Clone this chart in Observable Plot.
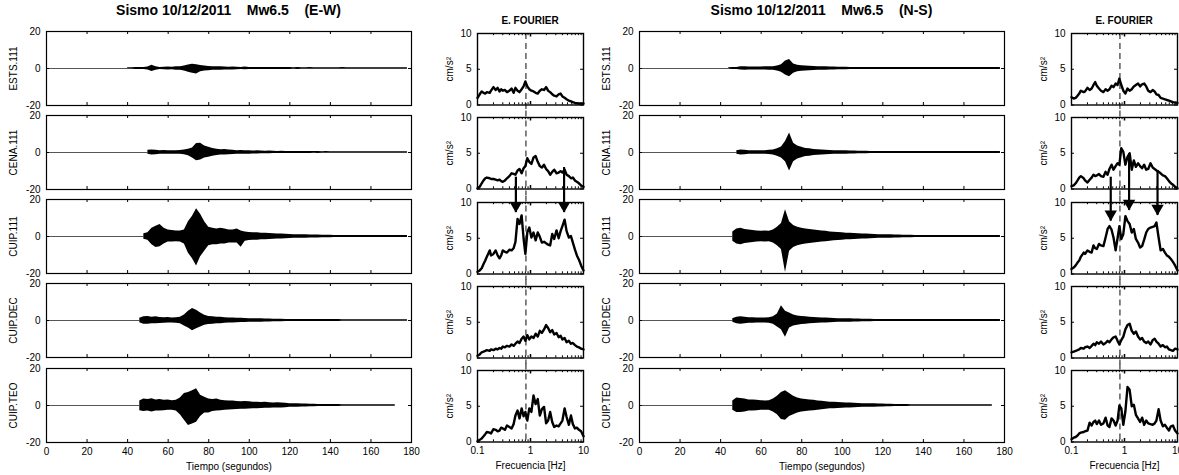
<!DOCTYPE html>
<html><head><meta charset="utf-8">
<script src="https://cdn.jsdelivr.net/npm/d3@7"></script>
<script src="https://cdn.jsdelivr.net/npm/@observablehq/plot@0.6"></script>
<style>
body{margin:0;background:#fff;}
#root{position:relative;width:1179px;height:475px;overflow:hidden;font-family:"Liberation Sans",Arial,Helvetica,sans-serif;color:#000;}
.title{position:absolute;font-weight:bold;white-space:pre;text-align:center;}
</style></head><body><div id="root"></div><script>
// ---------- data ----------
const stations = ["ESTS.111","CENA.111","CUIP.111","CUIP.DEC","CUIP.TEO"];
const components = ["E-W","N-S"];
const titleDate = "Sismo 10/12/2011";
const titleMag = "Mw6.5";
const fourierTitle = "E. FOURIER";
const timeTicks = [0,20,40,60,80,100,120,140,160,180];
const ampTicks = [-20,0,20];
const freqTicks = [0.1,1,10];
const freqMinor = [0.2,0.3,0.4,0.5,0.6,0.7,0.8,0.9,2,3,4,5,6,7,8,9];
const specTicks = [0,5,10];
const dashedFreq = 0.82;

// envelope of each accelerogram, one value every 2 s from its onset time
const startEW = [40,50,48,46,46];
const upEW_ESTS = [0.4,0.4,0.5,0.5,0.6,0.8,1.7,1.0,0.6,0.7, 0.8,0.7,0.9,1.0,1.3,1.9,2.3,2.0,1.6,1.3, 1.1,1.0,0.9,1.0,0.8,0.7,0.8,0.7,0.6,0.8, 0.6,0.6,0.5,0.6,0.5,0.5,0.6,0.5,0.5,0.5, 0.5,0.4,0.5,0.4,0.4,0.5,0.4,0.4,0.4,0.4, 0.4,0.4,0.4,0.5,0.4,0.4,0.4,0.4,0.4,0.4, 0.4,0.4,0.4,0.4,0.4,0.4,0.4,0.4,0.4,0.4];
const loEW_ESTS = [-0.4,-0.4,-0.5,-0.5,-0.6,-0.8,-1.6,-1.0,-0.6,-0.7, -0.8,-0.7,-0.9,-1.0,-1.4,-2.0,-2.6,-3.0,-1.8,-1.4, -1.2,-1.0,-0.9,-1.0,-0.8,-0.8,-0.8,-0.7,-0.6,-0.7, -0.6,-0.6,-0.5,-0.6,-0.5,-0.5,-0.5,-0.5,-0.5,-0.5, -0.5,-0.4,-0.5,-0.4,-0.4,-0.4,-0.4,-0.4,-0.4,-0.4, -0.4,-0.4,-0.4,-0.4,-0.4,-0.4,-0.4,-0.4,-0.4,-0.4, -0.4,-0.4,-0.4,-0.4,-0.4,-0.4,-0.4,-0.4,-0.4,-0.4];
const upEW_CENA = [1.2,1.4,1.2,1.0,1.1,1.0,0.9,1.0,1.1,1.3, 1.8,2.5,4.8,5.0,3.5,2.8,2.2,1.8,1.5,1.6, 1.3,1.2,1.0,1.1,1.0,0.9,0.8,0.9,0.8,0.7, 0.8,0.7,0.6,0.7,0.6,0.6,0.5,0.6,0.5,0.5, 0.5,0.5,0.5,0.4,0.5,0.4,0.4,0.4,0.4,0.4, 0.4,0.4,0.4,0.4,0.4,0.4,0.4,0.4,0.4,0.4, 0.4,0.4,0.4,0.4,0.4];
const loEW_CENA = [-1.0,-1.3,-1.2,-1.0,-1.0,-0.9,-0.9,-1.0,-1.0,-1.2, -1.8,-3.0,-4.5,-4.0,-3.0,-2.5,-2.0,-1.6,-1.4,-1.4, -1.2,-1.1,-1.0,-1.0,-0.9,-0.9,-0.8,-0.8,-0.7,-0.7, -0.7,-0.6,-0.6,-0.6,-0.6,-0.5,-0.5,-0.5,-0.5,-0.5, -0.5,-0.4,-0.5,-0.4,-0.4,-0.4,-0.4,-0.4,-0.4,-0.4, -0.4,-0.4,-0.4,-0.4,-0.4,-0.4,-0.4,-0.4,-0.4,-0.4, -0.4,-0.4,-0.4,-0.4,-0.4];
const upEW_CUIP111 = [1.5,2.0,4.5,5.5,6.5,4.5,3.5,3.2,3.0,3.0, 3.5,8.0,11.0,15.0,12.0,8.0,5.0,4.5,4.0,4.5, 4.0,3.5,3.5,4.0,3.0,2.5,2.2,2.0,2.0,1.8, 1.8,1.6,1.5,1.4,1.3,1.2,1.1,1.0,1.0,0.9, 0.9,0.8,0.8,0.8,0.7,0.7,0.7,0.6,0.6,0.6, 0.6,0.5,0.5,0.5,0.5,0.5,0.5,0.5,0.5,0.5, 0.5,0.5,0.5,0.5,0.5,0.5];
const loEW_CUIP111 = [-1.5,-2.0,-4.5,-6.0,-5.5,-4.0,-3.0,-3.0,-2.8,-3.0, -4.0,-9.0,-12.0,-16.0,-11.0,-8.0,-5.0,-4.5,-4.5,-4.0, -4.0,-3.5,-3.5,-3.5,-5.8,-2.5,-2.2,-2.0,-2.0,-1.8, -1.8,-1.6,-1.5,-1.4,-1.3,-1.2,-1.1,-1.0,-1.0,-0.9, -0.9,-0.8,-0.8,-0.8,-0.7,-0.7,-0.7,-0.6,-0.6,-0.6, -0.6,-0.5,-0.5,-0.5,-0.5,-0.5,-0.5,-0.5,-0.5,-0.5, -0.5,-0.5,-0.5,-0.5,-0.5,-0.5];
const upEW_CUIPDEC = [1.2,2.0,2.2,1.8,2.0,1.6,1.5,1.6,1.4,1.5, 1.8,3.0,5.0,6.5,5.5,4.0,2.8,2.2,2.0,1.8, 1.8,1.5,1.4,1.3,1.2,1.2,1.1,1.0,1.0,0.9, 0.9,0.8,0.8,0.7,0.7,0.7,0.6,0.6,0.6,0.6, 0.5,0.5,0.5,0.5,0.5,0.5,0.5,0.5,0.5,0.5, 0.4,0.4,0.4,0.4,0.4,0.4,0.4,0.4,0.4,0.4, 0.4,0.4,0.4,0.4,0.4,0.4,0.4];
const loEW_CUIPDEC = [-1.2,-2.0,-2.0,-1.8,-1.8,-1.6,-1.5,-1.4,-1.4,-1.5, -1.8,-3.0,-4.0,-5.5,-4.5,-3.5,-2.6,-2.2,-2.0,-1.8, -1.7,-1.5,-1.4,-1.3,-1.2,-1.1,-1.1,-1.0,-1.0,-0.9, -0.9,-0.8,-0.8,-0.7,-0.7,-0.7,-0.6,-0.6,-0.6,-0.6, -0.5,-0.5,-0.5,-0.5,-0.5,-0.5,-0.5,-0.5,-0.5,-0.5, -0.4,-0.4,-0.4,-0.4,-0.4,-0.4,-0.4,-0.4,-0.4,-0.4, -0.4,-0.4,-0.4,-0.4,-0.4,-0.4,-0.4];
const upEW_CUIPTEO = [2.5,3.5,3.2,3.6,3.0,3.2,2.8,3.0,2.6,2.8, 4.0,6.5,7.0,8.0,9.0,5.5,4.5,3.5,3.2,3.5, 2.8,2.6,2.5,2.4,2.2,2.0,2.2,2.0,1.8,1.8, 1.6,1.7,1.5,1.4,1.5,1.3,1.2,1.0,1.0,0.9, 0.8,0.8,0.7,0.7,0.6,0.6,0.6,0.5,0.5,0.5, 0.4,0.4,0.4,0.4,0.4,0.4,0.4,0.4,0.4,0.4, 0.4,0.4,0.4,0.4];
const loEW_CUIPTEO = [-2.8,-3.2,-3.0,-3.5,-3.0,-3.0,-2.8,-2.6,-2.6,-3.0, -5.0,-8.0,-10.8,-10.0,-9.0,-6.0,-4.0,-4.0,-3.2,-3.0, -2.8,-2.5,-2.4,-2.3,-2.2,-2.0,-2.0,-1.9,-1.8,-1.7, -1.6,-1.5,-1.5,-1.4,-1.3,-1.3,-1.2,-1.0,-1.0,-0.9, -0.8,-0.8,-0.7,-0.7,-0.6,-0.6,-0.6,-0.5,-0.5,-0.5, -0.4,-0.4,-0.4,-0.4,-0.4,-0.4,-0.4,-0.4,-0.4,-0.4, -0.4,-0.4,-0.4,-0.4];

const startNS = [44,48,46,46,46];
const upNS_ESTS = [0.4,0.5,0.6,0.9,1.0,0.8,0.8,0.8,0.8,0.9, 0.9,1.0,1.3,2.0,4.0,4.8,2.5,1.8,1.5,1.3, 1.2,1.1,1.0,0.9,0.9,0.8,0.8,0.7,0.7,0.7, 0.6,0.6,0.6,0.6,0.5,0.5,0.5,0.5,0.5,0.5, 0.5,0.5,0.5,0.5,0.5,0.5,0.5,0.5,0.5,0.5, 0.5,0.5,0.5,0.5,0.5,0.5,0.5,0.5,0.5,0.5, 0.5,0.5,0.5,0.5,0.5,0.5,0.5,0.5];
const loNS_ESTS = [-0.4,-0.5,-0.6,-0.8,-1.0,-0.8,-0.8,-0.8,-0.8,-0.8, -0.9,-1.0,-1.3,-2.0,-3.5,-4.5,-2.5,-1.8,-1.5,-1.3, -1.2,-1.1,-1.0,-0.9,-0.9,-0.8,-0.8,-0.7,-0.7,-0.7, -0.6,-0.6,-0.6,-0.6,-0.5,-0.5,-0.5,-0.5,-0.5,-0.5, -0.5,-0.5,-0.5,-0.5,-0.5,-0.5,-0.5,-0.5,-0.5,-0.5, -0.5,-0.5,-0.5,-0.5,-0.5,-0.5,-0.5,-0.5,-0.5,-0.5, -0.5,-0.5,-0.5,-0.5,-0.5,-0.5,-0.5,-0.5];
const upNS_CENA = [1.0,1.4,1.2,1.0,1.0,0.9,1.0,1.0,1.2,1.3, 2.0,3.0,6.0,10.5,5.0,3.5,2.8,2.2,2.0,1.6, 1.5,1.3,1.2,1.1,1.0,1.0,0.9,0.9,0.8,0.8, 0.7,0.7,0.7,0.6,0.6,0.6,0.6,0.5,0.5,0.5, 0.5,0.5,0.5,0.5,0.5,0.5,0.5,0.5,0.5,0.5, 0.5,0.5,0.5,0.5,0.5,0.5,0.5,0.5,0.5,0.5, 0.5,0.5,0.5,0.5,0.5,0.5];
const loNS_CENA = [-1.0,-1.3,-1.2,-1.0,-1.0,-0.9,-1.0,-1.0,-1.1,-1.3, -2.0,-3.0,-5.0,-10.0,-5.0,-3.5,-2.8,-2.2,-2.0,-1.6, -1.5,-1.3,-1.2,-1.1,-1.0,-1.0,-0.9,-0.9,-0.8,-0.8, -0.7,-0.7,-0.7,-0.6,-0.6,-0.6,-0.6,-0.5,-0.5,-0.5, -0.5,-0.5,-0.5,-0.5,-0.5,-0.5,-0.5,-0.5,-0.5,-0.5, -0.5,-0.5,-0.5,-0.5,-0.5,-0.5,-0.5,-0.5,-0.5,-0.5, -0.5,-0.5,-0.5,-0.5,-0.5,-0.5];
const upNS_CUIP111 = [2.5,4.0,4.5,3.8,3.5,3.2,3.0,2.8,3.0,2.8, 3.5,5.0,7.0,14.5,8.0,6.0,5.0,4.5,4.0,3.8, 3.5,3.2,3.0,2.8,2.5,2.3,2.2,2.0,1.8,1.7, 1.6,1.5,1.4,1.3,1.2,1.1,1.0,1.0,0.9,0.9, 0.8,0.8,0.7,0.7,0.7,0.6,0.6,0.6,0.5,0.5, 0.5,0.5,0.5,0.5,0.5,0.5,0.5,0.5,0.5,0.5, 0.5,0.5,0.5,0.5,0.5,0.5,0.5];
const loNS_CUIP111 = [-2.5,-4.0,-4.5,-3.8,-3.5,-3.2,-3.0,-2.8,-3.0,-2.8, -3.5,-5.0,-7.0,-19.5,-8.0,-6.0,-5.0,-4.5,-4.0,-3.8, -3.5,-3.2,-3.0,-2.8,-2.5,-2.3,-2.2,-2.0,-1.8,-1.7, -1.6,-1.5,-1.4,-1.3,-1.2,-1.1,-1.0,-1.0,-0.9,-0.9, -0.8,-0.8,-0.7,-0.7,-0.7,-0.6,-0.6,-0.6,-0.5,-0.5, -0.5,-0.5,-0.5,-0.5,-0.5,-0.5,-0.5,-0.5,-0.5,-0.5, -0.5,-0.5,-0.5,-0.5,-0.5,-0.5,-0.5];
const upNS_CUIPDEC = [1.0,1.8,2.0,1.8,1.5,1.5,1.4,1.3,1.4,1.5, 2.0,3.5,8.0,5.0,4.0,3.0,2.5,2.2,2.0,1.8, 1.6,1.5,1.4,1.3,1.2,1.1,1.0,1.0,0.9,0.9, 0.8,0.8,0.7,0.7,0.7,0.6,0.6,0.6,0.6,0.5, 0.5,0.5,0.5,0.5,0.5,0.5,0.5,0.5,0.5,0.5, 0.5,0.5,0.5,0.5,0.5,0.5,0.5,0.5,0.5,0.5, 0.5,0.5,0.5,0.5,0.5,0.5,0.5];
const loNS_CUIPDEC = [-1.0,-1.8,-2.0,-1.8,-1.5,-1.5,-1.4,-1.3,-1.4,-1.5, -2.0,-3.5,-5.0,-9.0,-4.0,-3.0,-2.5,-2.2,-2.0,-1.8, -1.6,-1.5,-1.4,-1.3,-1.2,-1.1,-1.0,-1.0,-0.9,-0.9, -0.8,-0.8,-0.7,-0.7,-0.7,-0.6,-0.6,-0.6,-0.6,-0.5, -0.5,-0.5,-0.5,-0.5,-0.5,-0.5,-0.5,-0.5,-0.5,-0.5, -0.5,-0.5,-0.5,-0.5,-0.5,-0.5,-0.5,-0.5,-0.5,-0.5, -0.5,-0.5,-0.5,-0.5,-0.5,-0.5,-0.5];
const upNS_CUIPTEO = [2.5,4.0,3.8,3.5,3.0,3.0,2.8,2.6,2.5,2.6, 3.5,5.0,7.0,8.0,6.5,5.0,4.0,3.5,3.2,3.0, 2.8,2.5,2.3,2.0,1.8,1.7,1.6,1.5,1.4,1.3, 1.2,1.1,1.0,1.0,0.9,0.9,0.8,0.8,0.7,0.7, 0.6,0.6,0.6,0.5,0.4,0.4,0.4,0.4,0.4,0.4, 0.4,0.4,0.4,0.4,0.4,0.4,0.4,0.4,0.4,0.4, 0.4,0.4,0.4,0.4,0.4];
const loNS_CUIPTEO = [-2.5,-3.8,-3.8,-3.5,-3.0,-3.0,-2.8,-2.6,-2.5,-2.6, -3.5,-5.0,-7.5,-8.0,-6.0,-5.0,-4.0,-3.5,-3.2,-3.0, -2.8,-2.5,-2.3,-2.0,-1.8,-1.7,-1.6,-1.5,-1.4,-1.3, -1.2,-1.1,-1.0,-1.0,-0.9,-0.9,-0.8,-0.8,-0.7,-0.7, -0.6,-0.6,-0.6,-0.5,-0.4,-0.4,-0.4,-0.4,-0.4,-0.4, -0.4,-0.4,-0.4,-0.4,-0.4,-0.4,-0.4,-0.4,-0.4,-0.4, -0.4,-0.4,-0.4,-0.4,-0.4];

// Fourier amplitude spectra (cm/s2) at these frequencies (Hz)
const freqs = [0.10,0.11,0.12,0.13,0.14,0.15,0.17,0.18,0.20,0.22, 0.24,0.26,0.28,0.30,0.33,0.36,0.40,0.44,0.48,0.52, 0.57,0.62,0.68,0.74,0.80,0.87,0.95,1.04,1.14,1.25, 1.37,1.50,1.64,1.80,1.97,2.15,2.35,2.57,2.80,3.10, 3.40,3.70,4.00,4.40,4.80,5.30,5.80,6.30,6.90,7.50, 8.20,9.00,10.0];
const specEW_ESTS = [1.0,1.5,1.9,1.7,1.6,1.8,1.7,2.0,2.5,2.1, 2.4,1.9,2.2,2.0,2.1,1.8,2.0,2.3,1.7,2.4, 2.0,1.8,2.2,2.6,3.3,2.6,2.2,2.0,1.9,1.7, 1.6,2.0,2.2,2.1,2.5,2.0,1.8,1.5,1.3,1.2, 1.5,1.6,1.2,1.0,0.8,0.6,0.5,0.4,0.3,0.25, 0.2,0.2,0.2];
const specEW_CENA = [0.1,0.3,0.8,1.2,1.5,1.6,1.5,1.4,1.4,1.3, 1.2,1.3,1.1,1.0,1.2,1.5,1.8,2.2,2.1,2.0, 2.6,2.8,2.2,2.9,3.2,4.3,3.8,3.5,4.4,4.6, 3.8,3.2,3.0,3.4,2.8,2.5,2.0,2.4,2.7,2.2, 2.3,2.5,2.3,2.7,2.0,1.8,1.5,1.6,1.2,1.0, 0.8,0.5,0.3];
const specEW_CUIP111 = [0.3,0.5,0.8,1.4,1.9,2.4,3.3,2.6,2.8,3.3, 2.6,2.2,2.6,3.3,3.1,3.0,3.4,3.3,3.6,4.5, 7.7,7.0,8.2,5.0,2.8,5.8,6.5,5.1,5.8,4.7, 5.8,5.2,4.4,4.5,4.3,4.1,4.0,5.6,4.9,6.1, 5.0,6.0,6.7,7.6,6.0,5.1,5.3,4.4,3.4,2.6, 2.0,1.2,0.5];
const specEW_CUIPDEC = [0.3,0.5,0.8,0.9,1.0,1.1,1.0,1.2,1.1,1.3, 1.2,1.4,1.3,1.6,1.5,1.7,1.6,1.9,1.7,2.0, 2.3,2.1,2.7,3.0,2.4,3.2,2.6,3.0,2.8,3.4, 3.0,3.8,3.5,4.0,4.6,4.2,3.6,3.9,3.3,3.5, 2.9,3.1,2.6,2.8,2.2,2.4,2.0,2.1,1.8,1.6, 1.5,1.3,1.2];
const specEW_CUIPTEO = [0.1,0.3,0.5,0.8,1.1,1.4,1.3,1.2,1.8,1.7, 1.5,1.6,2.0,1.9,1.7,2.3,2.1,1.9,2.5,3.7, 4.4,3.3,4.7,3.6,4.2,3.0,4.7,4.2,6.5,5.3, 6.0,3.7,4.6,4.9,2.6,3.0,4.2,2.8,2.1,2.3, 2.2,2.6,3.0,4.7,3.5,2.4,3.7,2.5,1.9,2.0, 1.7,1.5,0.8];
const specNS_ESTS = [1.1,0.9,1.0,1.3,1.6,2.0,1.8,1.9,2.4,2.1, 2.3,2.8,3.2,2.7,2.3,2.0,1.8,2.2,2.0,2.2, 2.7,2.5,3.0,2.8,3.7,2.8,2.0,1.6,2.3,2.0, 2.2,2.6,2.8,3.0,2.6,2.9,3.0,2.6,2.0,1.8, 2.1,1.9,1.5,1.4,1.0,0.9,0.8,0.7,0.6,0.5, 0.4,0.35,0.3];
const specNS_CENA = [0.4,0.5,0.8,1.2,1.6,1.8,1.5,1.2,0.9,1.3, 1.6,2.0,1.8,1.9,2.1,1.8,1.7,2.4,2.0,2.8, 3.4,2.7,3.2,3.6,3.4,5.7,5.2,3.4,4.5,5.0, 2.7,4.0,3.1,3.6,3.2,2.9,3.4,2.7,2.8,3.6, 3.0,2.8,2.6,2.4,2.2,1.9,1.8,1.5,1.1,0.8, 0.6,0.3,0.1];
const specNS_CUIP111 = [0.7,0.9,1.2,1.6,1.9,2.4,3.0,2.8,3.3,3.1, 3.0,4.0,3.6,3.5,4.2,4.0,3.9,5.1,6.3,6.7, 6.2,5.1,3.3,5.0,6.7,4.9,5.6,8.1,7.4,7.0, 5.8,6.3,4.9,4.4,3.7,3.9,4.8,5.8,6.3,6.5, 6.6,6.7,7.2,5.1,3.3,3.5,3.0,2.6,2.4,2.1, 1.7,1.2,0.5];
const specNS_CUIPDEC = [0.8,0.9,1.0,1.1,1.2,1.4,1.3,1.5,1.6,1.4, 1.7,2.0,1.8,2.2,2.0,2.3,1.9,2.1,2.4,2.2, 2.6,2.9,3.0,2.4,1.9,2.5,3.0,4.0,4.6,4.8, 3.8,3.4,3.7,3.0,2.6,2.8,2.3,2.1,2.3,1.9, 2.5,2.7,2.3,2.0,1.6,1.8,1.5,1.6,1.2,1.1, 1.0,1.3,1.2];
const specNS_CUIPTEO = [0.4,0.6,0.7,0.9,1.2,1.3,1.4,1.5,1.6,2.7, 2.3,2.8,3.0,2.5,3.0,2.4,2.6,3.4,2.3,2.1, 3.3,3.0,2.3,3.0,5.1,4.7,2.4,4.3,7.7,7.3, 5.0,5.2,3.8,3.3,2.8,3.4,2.4,3.0,2.6,2.5, 2.4,2.6,3.0,4.6,3.0,2.2,2.4,2.0,1.6,2.2, 2.3,1.6,1.2];

// arrows from the CENA.111 spectrum down to the CUIP.111 spectrum
const arrowFreqEW = [0.53, 4.3];
const arrowFromEW = [1.75, 3.1];   // value on CENA.111 panel
const arrowToEW = [8.6, 8.6];      // value on CUIP.111 panel
const arrowFreqNS = [0.55, 1.22, 4.2];
const arrowFromNS = [1.75, 5.0, 2.7];
const arrowToNS = [7.4, 8.9, 8.2];

// ---------- layout ----------
const FONT = "'Liberation Sans', Arial, Helvetica, sans-serif";
const ROW_STEP = 84.3;
const TIME_TOP = 30.5, TIME_H = 74, TIME_W = 365;
const FOUR_TOP = 33, FOUR_H = 71.5, FOUR_W = 106;

const groups = [
  {comp: components[0], starts: startEW,
   traces: [[upEW_ESTS,loEW_ESTS],[upEW_CENA,loEW_CENA],[upEW_CUIP111,loEW_CUIP111],[upEW_CUIPDEC,loEW_CUIPDEC],[upEW_CUIPTEO,loEW_CUIPTEO]],
   spectra: [specEW_ESTS,specEW_CENA,specEW_CUIP111,specEW_CUIPDEC,specEW_CUIPTEO],
   arrows: arrowFreqEW.map((f,i)=>({f, from: arrowFromEW[i], to: arrowToEW[i]})),
   timeLeft: 46, fourLeft: 477},
  {comp: components[1], starts: startNS,
   traces: [[upNS_ESTS,loNS_ESTS],[upNS_CENA,loNS_CENA],[upNS_CUIP111,loNS_CUIP111],[upNS_CUIPDEC,loNS_CUIPDEC],[upNS_CUIPTEO,loNS_CUIPTEO]],
   spectra: [specNS_ESTS,specNS_CENA,specNS_CUIP111,specNS_CUIPDEC,specNS_CUIPTEO],
   arrows: arrowFreqNS.map((f,i)=>({f, from: arrowFromNS[i], to: arrowToNS[i]})),
   timeLeft: 639, fourLeft: 1071}
];

const root = document.getElementById("root");
function place(svg, left, top) {
  svg.style.position = "absolute";
  svg.style.left = left + "px";
  svg.style.top = top + "px";
  svg.style.overflow = "visible";
  svg.style.background = "transparent";
  svg.style.maxWidth = "none";
  root.appendChild(svg);
}
const baseStyle = {fontFamily: FONT, fontSize: "10px", background: "transparent", color: "black", overflow: "visible"};
const fmt = d => String(d);

function timePanel(g, r) {
  const last = r === 4;
  const mL = 46, mR = 6, mT = 6, mB = last ? 40 : 6;
  const up = g.traces[r][0], lo = g.traces[r][1], t0 = g.starts[r];
  const data = up.map((u, i) => ({t: t0 + 2 * i, up: u, lo: lo[i]}));
  const ux = 180 / TIME_W, uy = 40 / TIME_H;
  const inner = timeTicks.filter(d => d > 0 && d < 180);
  const svg = Plot.plot({
    width: mL + TIME_W + mR, height: mT + TIME_H + mB,
    marginLeft: mL, marginRight: mR, marginTop: mT, marginBottom: mB,
    style: baseStyle,
    x: last ? {domain: [0, 180], ticks: timeTicks, tickSize: 0, tickPadding: 5, tickFormat: fmt,
               label: "Tiempo (segundos)", labelArrow: "none", labelAnchor: "center", labelOffset: 27}
            : {domain: [0, 180], axis: null},
    y: {domain: [-20, 20], ticks: ampTicks, tickSize: 0, tickPadding: 6, tickFormat: fmt,
        label: stations[r], labelArrow: "none", labelAnchor: "center", labelOffset: 37},
    marks: [
      Plot.ruleY([0], {x1: 0, x2: t0, stroke: "#555", strokeWidth: 1}),
      Plot.areaY(data, {x: "t", y1: "lo", y2: "up", fill: "black"}),
      Plot.ruleX(inner, {x: d => d, y1: -20, y2: -20 + 3 * uy, stroke: "black"}),
      Plot.ruleX(inner, {x: d => d, y1: 20, y2: 20 - 3 * uy, stroke: "black"}),
      Plot.ruleY(ampTicks, {y: d => d, x1: 0, x2: 3 * ux, stroke: "black"}),
      Plot.ruleY(ampTicks, {y: d => d, x1: 180, x2: 180 - 3 * ux, stroke: "black"}),
      Plot.frame({stroke: "black", strokeWidth: 1.2})
    ]
  });
  place(svg, g.timeLeft - mL, TIME_TOP + r * ROW_STEP - mT);
}

function fourierPanel(g, r) {
  const last = r === 4;
  const mL = 40, mR = 6, mT = 6, mB = last ? 40 : 6;
  const data = freqs.map((f, i) => ({f, v: g.spectra[r][i]}));
  const uy = 10 / FOUR_H;
  const kx = Math.pow(10, 3 / (FOUR_W / 2));
  const half = (ROW_STEP - FOUR_H) / 2 * uy;
  const shift = ROW_STEP * uy;
  const marks = [
    Plot.ruleX([dashedFreq], {x: d => d, y1: r === 0 ? 10 : 10 + half, y2: r === 4 ? 0 : -half,
      stroke: "#333", strokeWidth: 1.2, strokeDasharray: "6,4"}),
    Plot.ruleX(freqMinor, {x: d => d, y1: 0, y2: 2.2 * uy, stroke: "black"}),
    Plot.ruleX(freqMinor, {x: d => d, y1: 10, y2: 10 - 2.2 * uy, stroke: "black"}),
    Plot.ruleX([1], {x: d => d, y1: 0, y2: 3.5 * uy, stroke: "black", strokeWidth: 1.5}),
    Plot.ruleX([1], {x: d => d, y1: 10, y2: 10 - 3.5 * uy, stroke: "black", strokeWidth: 1.5}),
    Plot.ruleY(specTicks, {y: d => d, x1: 0.1, x2: 0.1 * kx, stroke: "black"}),
    Plot.ruleY(specTicks, {y: d => d, x1: 10, x2: 10 / kx, stroke: "black"}),
    Plot.line(data, {x: "f", y: "v", stroke: "black", strokeWidth: 2.4, strokeLinejoin: "round"}),
    Plot.frame({stroke: "black", strokeWidth: 1.4})
  ];
  if (r === 2) {
    marks.push(
      Plot.ruleX(g.arrows, {x: "f", y1: d => d.from + shift, y2: "to", stroke: "black", strokeWidth: 2.2}),
      Plot.dot(g.arrows, {x: "f", y: "to", symbol: "triangle", rotate: 180, r: 4.6, fill: "black", stroke: "none", dy: -7})
    );
  }
  const svg = Plot.plot({
    width: mL + FOUR_W + mR, height: mT + FOUR_H + mB,
    marginLeft: mL, marginRight: mR, marginTop: mT, marginBottom: mB,
    style: baseStyle,
    x: last ? {type: "log", domain: [0.1, 10], ticks: freqTicks, tickSize: 0, tickPadding: 5, tickFormat: fmt,
               label: "Frecuencia [Hz]", labelArrow: "none", labelAnchor: "center", labelOffset: 27}
            : {type: "log", domain: [0.1, 10], axis: null},
    y: {domain: [0, 10], ticks: specTicks, tickSize: 0, tickPadding: 6, tickFormat: fmt,
        label: "cm/s²", labelArrow: "none", labelAnchor: "center", labelOffset: 32},
    marks
  });
  place(svg, g.fourLeft - mL, FOUR_TOP + r * ROW_STEP - mT);
}

for (const g of groups) {
  for (let r = 0; r < 5; r++) timePanel(g, r);
  for (let r = 0; r < 5; r++) fourierPanel(g, r);
  const t = document.createElement("div");
  t.className = "title";
  t.style.cssText = `left:${g.timeLeft}px;width:${TIME_W}px;top:2px;font-size:14px;line-height:16px;`;
  t.textContent = `${titleDate}    ${titleMag}    (${g.comp})`;
  root.appendChild(t);
  const f = document.createElement("div");
  f.className = "title";
  f.style.cssText = `left:${g.fourLeft}px;width:${FOUR_W}px;top:15px;font-size:10px;line-height:12px;`;
  f.textContent = fourierTitle;
  root.appendChild(f);
}
</script></body></html>
